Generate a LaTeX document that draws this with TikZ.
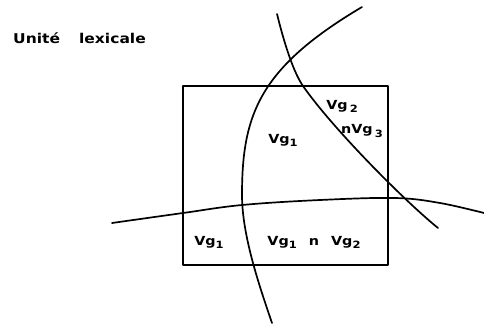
\documentclass[tikz,border=0pt]{standalone}
\usepackage{fontspec}
\newfontfamily\lett[FakeStretch=1.15]{DejaVu Sans Bold}
\newcommand{\lsub}[1]{\raisebox{-0.45ex}{\fontsize{10}{12}\selectfont #1}}
\tikzset{
  ink/.style={line width=1.7pt, line cap=round, line join=round},
  lab/.style={font=\lett\fontsize{12.5}{14}\selectfont, inner sep=0pt}
}
\begin{document}
\begin{tikzpicture}[x=1pt,y=-1pt]
\useasboundingbox (0,0) rectangle (484,327);
% rectangle
\draw[ink] (183,86) rectangle (388,265);
% arc A
\draw[ink] (362,7) .. controls (259,68) and (242,115) .. (242,195)
               .. controls (242,235) and (259,285) .. (272,323);
% arc B
\draw[ink] (277,14) .. controls (281.8,33.4) and (291.6,69.6) .. (303,86)
               .. controls (331.5,127) and (403,199.6) .. (438,228);
% arc C
\draw[ink] plot[smooth, tension=0.6] coordinates {(112,223) (183,213) (242,205) (320,200) (395,198) (440,203) (484,213)};
% labels
\node[lab, anchor=west, font=\lett\fontsize{13.5}{15}\selectfont] (title) at (13,38) {Unit\'e\hspace{19pt}lexicale};
\node[lab] (v1) at (283,140) {Vg\lsub{1}};
\node[lab] (v2) at (342,106) {Vg\,\lsub{2}};
\node[lab] (v3) at (362,131) {nVg\,\lsub{3}};
\node[lab] (b1) at (209,242) {Vg\lsub{1}};
\node[lab] (b2) at (314,242) {Vg\lsub{1}\hspace{12pt}n\hspace{12pt}Vg\lsub{2}};
\end{tikzpicture}
\end{document}
